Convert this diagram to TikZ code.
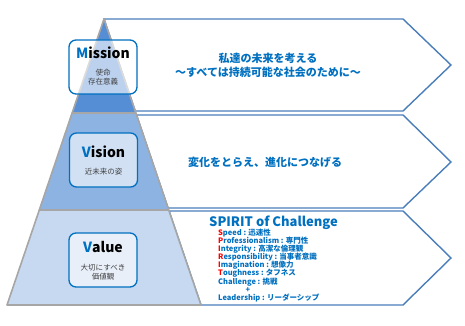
\documentclass[tikz,border=0pt]{standalone}
\usepackage{fontspec}
\setmainfont{Noto Sans CJK JP}
\usetikzlibrary{positioning}
\definecolor{ink}{HTML}{404040}
\definecolor{navy}{HTML}{0070C0}
\definecolor{edge}{HTML}{4A7EBB}
\definecolor{rim}{HTML}{A6A6A6}
\definecolor{missionfill}{HTML}{558ED5}
\definecolor{visionfill}{HTML}{8DB3E2}
\definecolor{valuefill}{HTML}{C6D9F1}
\definecolor{initial}{HTML}{FF0000}

\begin{document}
\begin{tikzpicture}[x=1pt,y=-1pt,
    every node/.style={inner sep=0pt},
    chevron/.style={draw=edge,line width=1.4pt,fill=white,line join=miter},
    band/.style={draw=rim,line width=1.6pt,line join=round},
    tierbox/.style={draw=navy,line width=1.3pt,rounded corners=7pt,fill=white,fill opacity=.6,
      minimum width=68pt,minimum height=54pt},
    tiername/.style={font=\fontsize{14}{14}\selectfont\bfseries},
    tiernote/.style={text=ink,font=\fontsize{7.5}{9}\selectfont,align=center},
    goal/.style={text=navy,font=\fontsize{11}{14.5}\selectfont\bfseries,align=center},
    spirit/.style={anchor=west,text=navy,font=\fontsize{7.5}{7.5}\selectfont\bfseries}]
  \useasboundingbox (0,0) rectangle (465,326);
  % arrows behind the pyramid
  \draw[chevron] (104,19) -- (403,19) -- (451,65) -- (403,111) -- (135.2,111) -- cycle;
  \draw[chevron] (136.5,115) -- (403,115) -- (451,162) -- (403,208) -- (168.1,208) -- cycle;
  \draw[chevron] (169.1,211) -- (403,211) -- (451,258) -- (403,305) -- (201,305) -- cycle;
  % pyramid
  \draw[band,fill=missionfill] (104,19) -- (135.9,113) -- (72.1,113) -- cycle;
  \draw[band,fill=visionfill] (72.1,113) -- (135.9,113) -- (168.7,210) -- (39.3,210) -- cycle;
  \draw[band,fill=valuefill] (39.3,210) -- (168.7,210) -- (201,305) -- (7,305) -- cycle;
  % tiers
  \node[tierbox] (missionbox) at (103,67) {};
  \node[tiername] (missionname) at (103,53) {\textcolor{navy}{M}ission};
  \node[tiernote] (missionnote) at (103,77) {使命\\存在意義};
  \node[tierbox] (visionbox) at (103.5,160) {};
  \node[tiername] (visionname) at (103.5,152) {\textcolor{navy}{V}ision};
  \node[tiernote] (visionnote) at (103.5,172) {近未来の姿};
  \node[tierbox] (valuebox) at (103,260) {};
  \node[tiername] (valuename) at (103,247) {\textcolor{navy}{V}alue};
  \node[tiernote] (valuenote) at (103,272.5) {大切にすべき\\価値観};
  % statements
  \node[goal] (missiongoal) at (268,65.5) {私達の未来を考える\\～すべては持続可能な社会のために～};
  \node[goal] (visiongoal) at (265,162) {変化をとらえ、進化につなげる};
  \node[anchor=west,text=navy,font=\fontsize{13}{13}\selectfont\bfseries] (spirittitle) at (209,223) {SPIRIT of Challenge};
  \node[spirit] (speed) at (218,233) {\textcolor{initial}{S}peed : 迅速性};
  \node[spirit] (professionalism) at (218,241) {\textcolor{initial}{P}rofessionalism : 専門性};
  \node[spirit] (integrity) at (218,249.3) {\textcolor{initial}{I}ntegrity : 高潔な倫理観};
  \node[spirit] (responsibility) at (218,257.4) {\textcolor{initial}{R}esponsibility : 当事者意識};
  \node[spirit] (imagination) at (218,265.6) {\textcolor{initial}{I}magination : 想像力};
  \node[spirit] (toughness) at (218,273.7) {\textcolor{initial}{T}oughness : タフネス};
  \node[spirit] (challenge) at (218,281.8) {Challenge : 挑戦};
  \node[text=navy,font=\fontsize{7.5}{7.5}\selectfont\bfseries] (plus) at (248,289.8) {+};
  \node[spirit] (leadership) at (218,298) {Leadership : リーダーシップ};
\end{tikzpicture}
\end{document}
